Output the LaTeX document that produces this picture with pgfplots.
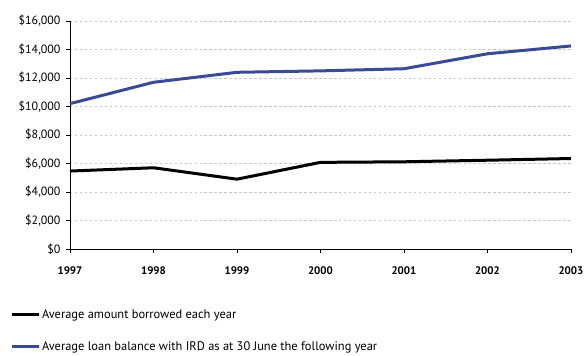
\documentclass[border=0pt]{standalone}
\usepackage{pgfplots}
\pgfplotsset{compat=1.18}
\usepackage{fontspec}
\setmainfont{PT Sans}
\definecolor{loanblue}{RGB}{59,74,150}
\begin{document}
\begin{tikzpicture}
\useasboundingbox (-70bp,-107bp) rectangle (514bp,249bp);
\begin{axis}[
  scale only axis,
  width=501bp, height=228bp,
  at={(0,0)}, anchor=south west,
  xmin=1997, xmax=2003, ymin=0, ymax=16000,
  scaled y ticks=false,
  axis x line*=bottom, axis y line*=left,
  axis line style={black, line width=0.8pt},
  xtick={1997,...,2003}, ytick={0,2000,...,16000},
  tick align=outside, major tick length=4bp,
  tick style={black, line width=0.8pt},
  ymajorgrids, grid style={gray!45, dash pattern=on 2.5pt off 2.5pt, line width=0.5pt},
  /pgf/number format/assume math mode=true,
  xticklabel style={/pgf/number format/1000 sep={}, font=\fontsize{11}{13}\selectfont\bfseries, yshift=-10bp},
  yticklabel={\$\pgfmathprintnumber[1000 sep={,}]{\tick}},
  yticklabel style={font=\fontsize{12}{13}\selectfont, xshift=-2bp},
  legend style={at={(-0.12,-0.255)}, anchor=north west, draw=none, fill=none,
    font=\fontsize{12.5}{14}\selectfont, row sep=18bp, inner sep=0pt},
  legend cell align=left,
  legend image code/.code={\draw[#1, line width=3bp] (0cm,0cm) -- (0.95cm,0cm);},
  clip=false,
]
\addplot[black, line width=3bp] coordinates {
(1997,5470) (1998,5700) (1999,4900) (2000,6080) (2001,6120) (2002,6230) (2003,6350)};
\addlegendentry{Average amount borrowed each year}
\addplot[loanblue, line width=3bp] coordinates {
(1997,10200) (1998,11700) (1999,12400) (2000,12500) (2001,12650) (2002,13700) (2003,14250)};
\addlegendentry{Average loan balance with IRD as at 30 June the following year}
\end{axis}
\end{tikzpicture}
\end{document}
